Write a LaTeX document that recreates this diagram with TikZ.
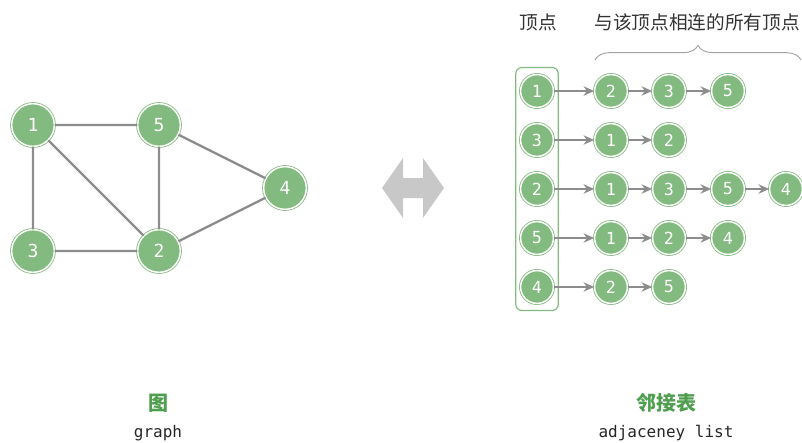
\documentclass[tikz,border=0pt]{standalone}
\usepackage{fontspec}
\newfontfamily\cjk{Noto Sans CJK SC}
\newfontfamily\mono{DejaVu Sans Mono}
\usetikzlibrary{arrows.meta,fit,decorations.pathreplacing}
\definecolor{vgreen}{HTML}{82BA7F}
\definecolor{tgreen}{HTML}{4F9E4F}
\definecolor{egray}{HTML}{8C8C8C}
\definecolor{bgray}{HTML}{C8C8C8}
\tikzset{
  vtx/.style={circle, fill=vgreen, draw=vgreen, line width=0.6pt, double=white, double distance=1.1pt,
    text=white, font=\mono\fontsize{13.5}{13.5}\selectfont, inner sep=0pt, minimum size=32pt},
  lvtx/.style={vtx, minimum size=24.6pt, font=\mono\fontsize{12.5}{12.5}\selectfont},
  edge/.style={egray, line width=1.8pt},
  nxt/.style={egray, line width=1.4pt, -{Stealth[length=8pt,width=7pt]}},
  cjktext/.style={font=\cjk\fontsize{14}{14}\selectfont, text=black!80},
  title/.style={font=\cjk\bfseries\fontsize{15}{15}\selectfont, text=tgreen},
  sub/.style={font=\mono\fontsize{12}{12}\selectfont, text=black!85}
}
\begin{document}
\begin{tikzpicture}[x=0.75pt,y=-0.75pt]
\useasboundingbox (0,0) rectangle (802,442);

% graph
\node[vtx] (g1) at (33,125) {1};
\node[vtx] (g5) at (159,125) {5};
\node[vtx] (g4) at (285,188) {4};
\node[vtx] (g3) at (33,251) {3};
\node[vtx] (g2) at (159,251) {2};
\draw[edge] (g1)--(g5) (g1)--(g3) (g1)--(g2) (g5)--(g2) (g3)--(g2) (g5)--(g4) (g2)--(g4);

\fill[bgray] (382,188) -- (403,158) -- (403,178) -- (423,178) -- (423,158) -- (444,188)
  -- (423,218) -- (423,198) -- (403,198) -- (403,218) -- cycle;

% adjacency list
\node[lvtx] (h1) at (537,91) {1};
\node[lvtx] (h3) at (537,140) {3};
\node[lvtx] (h2) at (537,189) {2};
\node[lvtx] (h5) at (537,238) {5};
\node[lvtx] (h4) at (537,287) {4};
\node[fit=(h1)(h4), draw=vgreen, line width=0.9pt, rounded corners=4.5pt, inner xsep=3.3pt, inner ysep=5pt] (col) {};

\node[lvtx] (a12) at (611,91) {2};
\node[lvtx] (a13) at (669,91) {3};
\node[lvtx] (a15) at (728,91) {5};
\draw[nxt] (h1)--(a12);
\draw[nxt] (a12)--(a13);
\draw[nxt] (a13)--(a15);

\node[lvtx] (a31) at (611,140) {1};
\node[lvtx] (a32) at (669,140) {2};
\draw[nxt] (h3)--(a31);
\draw[nxt] (a31)--(a32);

\node[lvtx] (a21) at (611,189) {1};
\node[lvtx] (a23) at (669,189) {3};
\node[lvtx] (a25) at (728,189) {5};
\node[lvtx] (a24) at (786,189) {4};
\draw[nxt] (h2)--(a21);
\draw[nxt] (a21)--(a23);
\draw[nxt] (a23)--(a25);
\draw[nxt] (a25)--(a24);

\node[lvtx] (a51) at (611,238) {1};
\node[lvtx] (a52) at (669,238) {2};
\node[lvtx] (a54) at (728,238) {4};
\draw[nxt] (h5)--(a51);
\draw[nxt] (a51)--(a52);
\draw[nxt] (a52)--(a54);

\node[lvtx] (a42) at (611,287) {2};
\node[lvtx] (a45) at (669,287) {5};
\draw[nxt] (h4)--(a42);
\draw[nxt] (a42)--(a45);

% headings
\node[cjktext] (vhead) at (538,22) {顶点};
\node[cjktext] (nhead) at (697,22) {与该顶点相连的所有顶点};
\coordinate (bl) at (595,60);
\coordinate (br) at (801,60);
\draw[decorate, decoration={brace, amplitude=11pt}, egray!80, line width=0.7pt] (bl) -- (br);

% captions
\node[title] (gtitle) at (158,403) {图};
\node[sub] (gsub) at (158,433) {graph};
\node[title] (ltitle) at (666,403) {邻接表};
\node[sub] (lsub) at (666,433) {adjaceney list};
\end{tikzpicture}
\end{document}
